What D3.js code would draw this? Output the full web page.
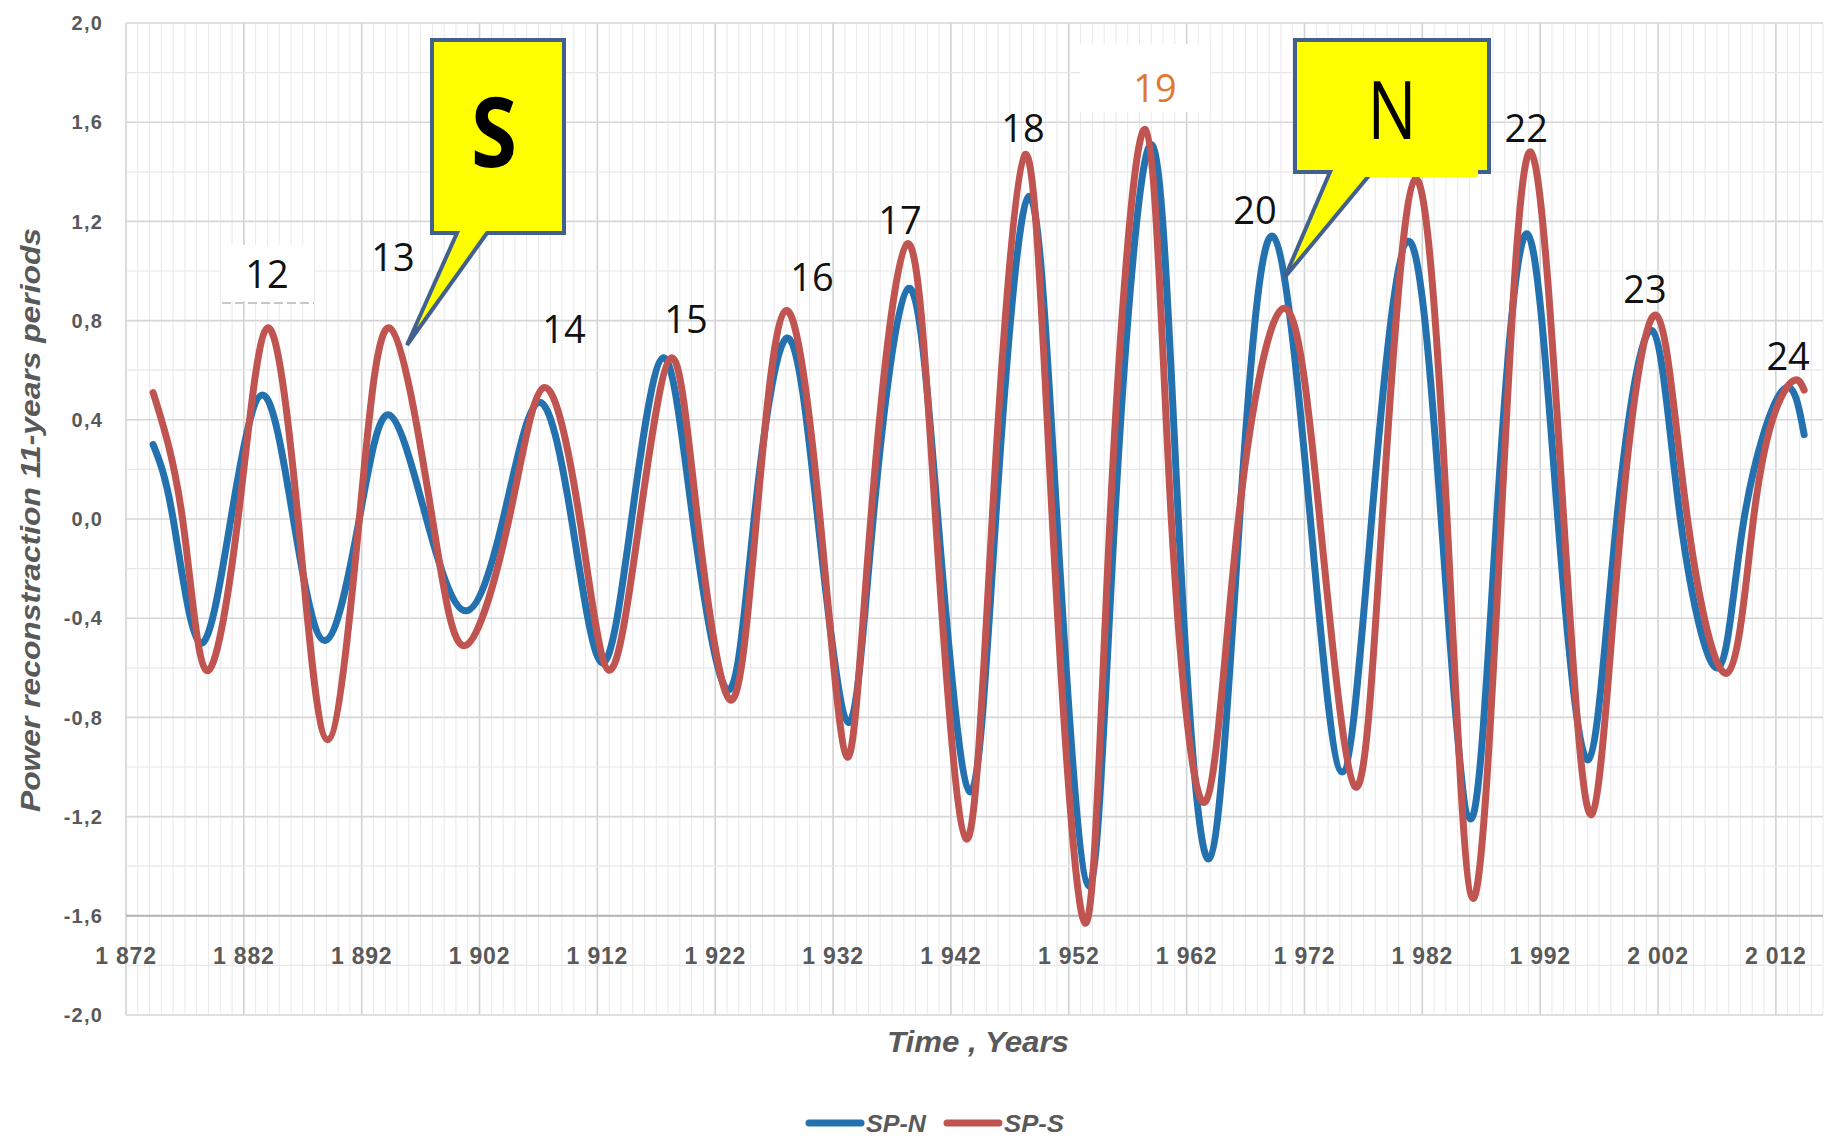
<!DOCTYPE html>
<html><head><meta charset="utf-8">
<script src="https://cdn.jsdelivr.net/npm/d3@7"></script>
<style>body{margin:0;background:#fff}svg{display:block}</style>
</head><body>
<svg id="c" width="1832" height="1139"></svg>
<script>
// ---- data ----
const nYears  = [1874.3,1876.0,1878.3,1880.9,1883.6,1886.2,1888.9,1891.8,1894.3,1897.5,1900.8,1904.0,1907.0,1909.8,1912.4,1914.9,1917.6,1920.1,1923.1,1925.3,1928.1,1930.7,1933.3,1935.4,1938.4,1940.9,1943.6,1945.8,1948.6,1951.0,1953.7,1955.9,1959.0,1961.3,1963.9,1966.5,1969.3,1972.5,1975.2,1977.7,1980.8,1983.6,1986.1,1988.3,1990.9,1993.5,1996.1,1998.5,2001.5,2003.9,2007.1,2009.3,2012.6,2014.4];
const nValues = [0.30,0.00,-0.50,0.00,0.50,0.00,-0.49,0.00,0.42,0.00,-0.37,0.00,0.47,0.00,-0.58,0.00,0.65,0.00,-0.69,0.00,0.73,0.00,-0.82,0.00,0.93,0.00,-1.10,0.00,1.30,0.00,-1.48,0.00,1.51,0.00,-1.37,0.00,1.14,0.00,-1.02,0.00,1.12,0.00,-1.21,0.00,1.15,0.00,-0.97,0.00,0.76,0.00,-0.60,0.00,0.52,0.34];
const sYears  = [1874.3,1876.8,1878.8,1881.5,1884.0,1886.6,1889.1,1891.8,1894.4,1898.0,1900.8,1904.5,1907.5,1910.5,1913.0,1915.6,1918.3,1920.5,1923.3,1925.5,1928.0,1930.9,1933.2,1935.2,1938.3,1940.7,1943.3,1945.5,1948.3,1950.6,1953.4,1955.5,1958.5,1960.7,1963.6,1966.4,1970.3,1973.3,1976.3,1978.6,1981.4,1984.1,1986.3,1988.7,1991.2,1994.0,1996.4,1998.9,2001.9,2004.5,2007.9,2010.1,2012.0,2013.6,2014.4];
const sValues = [0.51,0.00,-0.61,0.00,0.77,0.00,-0.89,0.00,0.77,0.00,-0.51,0.00,0.53,0.00,-0.61,0.00,0.65,0.00,-0.73,0.00,0.84,0.00,-0.96,0.00,1.11,0.00,-1.29,0.00,1.47,0.00,-1.63,0.00,1.57,0.00,-1.14,0.00,0.85,0.00,-1.08,0.00,1.37,0.00,-1.53,0.00,1.48,0.00,-1.19,0.00,0.82,0.00,-0.62,0.00,0.44,0.56,0.52];
const yTicks = [2.0,1.6,1.2,0.8,0.4,0.0,-0.4,-0.8,-1.2,-1.6,-2.0];
const xTicks = [1872,1882,1892,1902,1912,1922,1932,1942,1952,1962,1972,1982,1992,2002,2012];
const cycleNames  = ["12","13","14","15","16","17","18","19","20","22","23","24"];
const cycleYears  = [1883.97,1894.66,1909.17,1919.52,1930.21,1937.68,1948.12,1959.32,1967.81,1990.81,2000.90,2013.04];
const cycleLevels = [0.93,1.00,0.71,0.75,0.92,1.15,1.52,1.68,1.19,1.52,0.87,0.60];
const seriesNames = ["SP-N","SP-S"];
const seriesColors = ["#2471B0","#BF5451"];

// ---- scales ----
const svg = d3.select("#c");
const x = d3.scaleLinear().domain([1872,2016]).range([126,1823]);
const y = d3.scaleLinear().domain([-2,2]).range([1015,23]);
const fmt = v => d3.format(".1f")(v).replace(".",",").replace("−","-");
const fmtYear = v => { const s = String(v); return s[0] + " " + s.slice(1); };

// ---- grid ----
const g = svg.append("g");
d3.range(1872,2017,1).forEach(yr => {
  g.append("line").attr("x1",x(yr)).attr("x2",x(yr)).attr("y1",y(2)).attr("y2",y(-2))
   .attr("stroke", (yr-1872)%10===0 ? "#d2d2d2" : "#e9e9e9").attr("stroke-width", (yr-1872)%10===0 ? 1.6 : 1);
});
d3.range(-2,2.01,0.2).forEach(v => {
  const major = Math.abs(Math.round(v*10)) % 4 === 0;
  g.append("line").attr("x1",x(1872)).attr("x2",x(2016)).attr("y1",y(v)).attr("y2",y(v))
   .attr("stroke", major ? "#d6d6d6" : "#e8e8e8").attr("stroke-width", major?1.6:1.2);
});
// axis line at -1.6
g.append("line").attr("x1",x(1872)).attr("x2",x(2016)).attr("y1",y(-1.6)).attr("y2",y(-1.6))
 .attr("stroke","#b4b4b4").attr("stroke-width",2);

// white patches behind labels 12 and 19 (as in reference)
svg.append("rect").attr("x",221).attr("y",245).attr("width",93).attr("height",56).attr("fill","#fff");
svg.append("line").attr("x1",222).attr("x2",314).attr("y1",303).attr("y2",303)
   .attr("stroke","#c8c8c8").attr("stroke-width",2).attr("stroke-dasharray","9,4");
svg.append("rect").attr("x",1080).attr("y",44).attr("width",130).attr("height",68).attr("fill","#fff");

// ---- axes labels ----
svg.append("g").selectAll("text").data(yTicks).join("text")
  .attr("x",103).attr("y",d=>y(d)).attr("dy","0.36em").attr("text-anchor","end")
  .attr("font-family","Liberation Sans, Arial, sans-serif").attr("font-weight","bold")
  .attr("font-size",20).attr("letter-spacing","1.2px").attr("fill","#595959").text(fmt);
svg.append("g").selectAll("text").data(xTicks).join("text")
  .attr("x",d=>x(d)).attr("y",956).attr("dy","0.36em").attr("text-anchor","middle")
  .attr("font-family","Liberation Sans, Arial, sans-serif").attr("font-weight","bold")
  .attr("font-size",23).attr("letter-spacing","0.8px").attr("fill","#595959").text(fmtYear);

svg.append("text").attr("transform","translate(40,520) rotate(-90)").attr("text-anchor","middle")
  .attr("font-family","Liberation Sans, Arial, sans-serif").attr("font-weight","bold").attr("font-style","italic")
  .attr("font-size",27).attr("fill","#595959").attr("textLength",584).attr("lengthAdjust","spacingAndGlyphs")
  .text("Power reconstraction 11-years periods");
svg.append("text").attr("x",978).attr("y",1052).attr("text-anchor","middle")
  .attr("font-family","Liberation Sans, Arial, sans-serif").attr("font-weight","bold").attr("font-style","italic")
  .attr("font-size",30).attr("fill","#595959").attr("textLength",182).attr("lengthAdjust","spacingAndGlyphs")
  .text("Time , Years");

// ---- series ----
const line = d3.line().x(d=>x(d[0])).y(d=>y(d[1])).curve(d3.curveNatural);
const nData = nYears.map((yr,i)=>[yr,nValues[i]]);
const sData = sYears.map((yr,i)=>[yr,sValues[i]]);
[nData,sData].forEach((data,i) => {
  svg.append("path").datum(data).attr("d",line).attr("fill","none")
    .attr("stroke",seriesColors[i]).attr("stroke-width",7).attr("stroke-linecap","round").attr("stroke-linejoin","round");
});

// ---- cycle numbers ----
svg.append("g").selectAll("text").data(cycleNames).join("text")
  .attr("x",(d,i)=>x(cycleYears[i])).attr("y",(d,i)=>y(cycleLevels[i])).attr("text-anchor","middle")
  .attr("font-family","Open Sans, Liberation Sans, sans-serif").attr("font-size",38)
  .attr("fill",d=> d==="19" ? "#E2782F" : "#111").text(d=>d);

// ---- callouts ----
const callout = (path) => svg.append("path").attr("d",path).attr("fill","#FFFF00")
  .attr("stroke","#41608E").attr("stroke-width",4).attr("stroke-linejoin","miter");
callout("M432,40 H564 V233 H487 L407,345 L457,233 H432 Z");
svg.append("text").attr("x",494).attr("y",167).attr("text-anchor","middle")
  .attr("font-family","Open Sans, Liberation Sans, sans-serif").attr("font-weight","bold")
  .attr("font-size",96).attr("textLength",46).attr("lengthAdjust","spacingAndGlyphs").attr("fill","#000").text("S");
callout("M1295,40 H1489 V172 H1372 L1285,277 L1330,172 H1295 Z");
svg.append("rect").attr("x",1342).attr("y",42.5).attr("width",136).attr("height",134.5).attr("fill","#FFFF00");
svg.append("text").attr("x",1392).attr("y",139).attr("text-anchor","middle")
  .attr("font-family","Open Sans, Liberation Sans, sans-serif")
  .attr("font-size",80).attr("textLength",49).attr("lengthAdjust","spacingAndGlyphs").attr("fill","#000").text("N");

// ---- legend ----
const legX = [809, 947];
seriesNames.forEach((nm,i) => {
  svg.append("line").attr("x1",legX[i]).attr("x2",legX[i]+52).attr("y1",1123).attr("y2",1123)
    .attr("stroke",seriesColors[i]).attr("stroke-width",7).attr("stroke-linecap","round");
  svg.append("text").attr("x",legX[i]+57).attr("y",1123).attr("dy","0.36em")
    .attr("font-family","Liberation Sans, Arial, sans-serif").attr("font-weight","bold").attr("font-style","italic")
    .attr("font-size",24).attr("fill","#595959").attr("textLength",60).attr("lengthAdjust","spacingAndGlyphs").text(nm);
});
</script>
</body></html>
